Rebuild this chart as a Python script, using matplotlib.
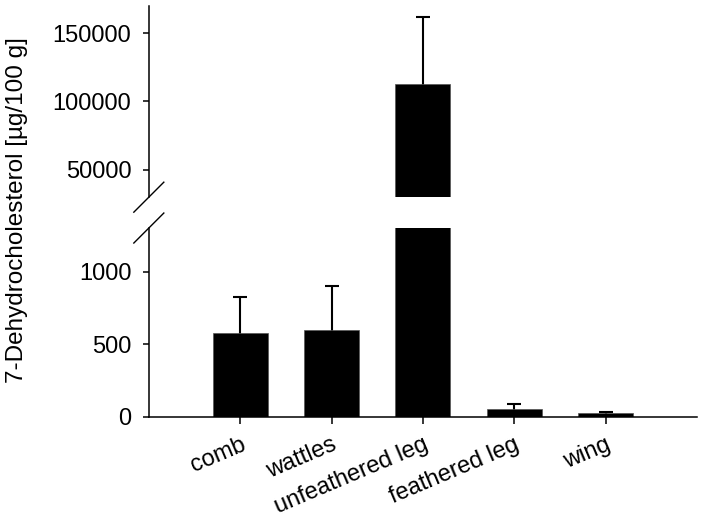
import numpy as np
import matplotlib.pyplot as plt

plt.rcParams['font.family'] = ['Liberation Sans', 'DejaVu Sans']

# ---- data ----
categories = ["comb", "wattles", "unfeathered leg", "feathered leg", "wing"]
means = [575, 600, 113000, 57, 25]
sd = [247, 304, 48700, 32, 11]

UPPER_LIM = (30000, 170000)
LOWER_LIM = (0, 1300)
FS = 17

fig = plt.figure(figsize=(7.26, 5.23), dpi=100)
ax_top = fig.add_axes([0.205, 0.623, 0.755, 0.366])
ax_bot = fig.add_axes([0.205, 0.203, 0.755, 0.361])

x = np.arange(len(categories))

for ax in (ax_top, ax_bot):
    # error bars behind the bars, so only the upper half shows
    ax.errorbar(x, means, yerr=sd, fmt="none", ecolor="black",
                elinewidth=1.5, capsize=5, capthick=1.5, zorder=1)
    ax.bar(x, means, width=0.6, color="black", edgecolor="#555555", linewidth=0.5, zorder=2)
    ax.set_xlim(-1.0, 5.0)
    for s in ("top", "right"):
        ax.spines[s].set_visible(False)
    ax.spines["left"].set_linewidth(1.1)
    ax.spines["bottom"].set_linewidth(1.1)
    ax.tick_params(axis="y", direction="out", length=4.5, width=1.1, labelsize=FS, pad=8)

ax_top.set_ylim(*UPPER_LIM)
ax_top.set_yticks([50000, 100000, 150000])
ax_top.spines["bottom"].set_visible(False)
ax_top.tick_params(axis="x", bottom=False, labelbottom=False)

ax_bot.set_ylim(*LOWER_LIM)
ax_bot.set_yticks([0, 500, 1000])
ax_bot.set_xticks(x)
ax_bot.set_xticklabels(categories, rotation=23, ha="right", rotation_mode="anchor", fontsize=FS)
ax_bot.tick_params(axis="x", direction="out", length=5, width=1.1, pad=7)

# break marks on the y axis
def break_mark(ax, y_axes, dx_px=15, dy_px=15):
    bbox = ax.get_window_extent()
    dx = dx_px / bbox.width
    dy = dy_px / bbox.height
    ax.plot([-dx, dx], [y_axes - dy, y_axes + dy], transform=ax.transAxes,
            color="black", lw=1.0, clip_on=False)

break_mark(ax_top, 0.0)
break_mark(ax_bot, 1.0)

fig.text(0.024, 0.598, "7-Dehydrocholesterol [µg/100 g]", rotation=90,
         ha="center", va="center", fontsize=FS + 0.5)

fig.savefig("out.png", dpi=100)
